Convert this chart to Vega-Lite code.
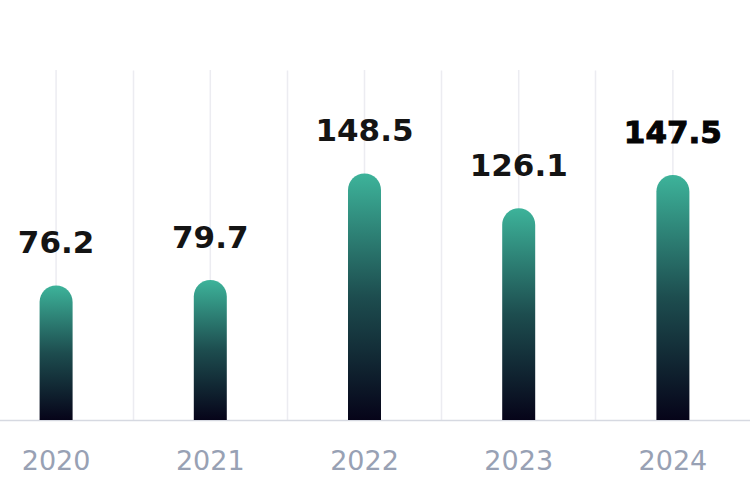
{
  "$schema": "https://vega.github.io/schema/vega-lite/v6.json",
  "width": 771,
  "height": 350,
  "autosize": {"type": "none"},
  "padding": {"left": -21, "top": 70, "right": 0, "bottom": 80},
  "background": "white",
  "data": {
    "values": [
      {"year": "2020", "value": 76.2},
      {"year": "2021", "value": 79.7},
      {"year": "2022", "value": 148.5},
      {"year": "2023", "value": 126.1},
      {"year": "2024", "value": 147.5}
    ]
  },
  "config": {
    "view": {"stroke": null},
    "font": "DejaVu Sans"
  },
  "encoding": {
    "x": {
      "field": "year",
      "type": "nominal",
      "sort": null,
      "scale": {"paddingInner": 0, "paddingOuter": 0},
      "axis": {
        "title": null,
        "bandPosition": 0,
        "grid": true,
        "gridColor": "#ececf1",
        "gridWidth": 1.5,
        "ticks": false,
        "domainColor": "#d6d9e1",
        "domainWidth": 1.5,
        "labelAngle": 0,
        "labelFont": "DejaVu Sans",
        "labelFontSize": 27,
        "labelFontWeight": "normal",
        "labelColor": "#98a1b4",
        "labelPadding": 28
      }
    }
  },
  "layer": [
    {
      "mark": {"type": "rule", "color": "#ececf1", "strokeWidth": 1.5},
      "encoding": {}
    },
    {
      "mark": {
        "type": "bar",
        "width": 33,
        "cornerRadiusTopLeft": 16.5,
        "cornerRadiusTopRight": 16.5,
        "fill": {
          "gradient": "linear",
          "x1": 0, "y1": 0, "x2": 0, "y2": 1,
          "stops": [
            {"offset": 0, "color": "#3db39a"},
            {"offset": 0.5, "color": "#1d4d4f"},
            {"offset": 1, "color": "#060419"}
          ]
        }
      },
      "encoding": {
        "y": {
          "field": "value",
          "type": "quantitative",
          "scale": {"domain": [-10.65, 215.3], "zero": false, "nice": false},
          "axis": null
        },
        "y2": {"datum": -10.65}
      }
    },
    {
      "transform": [{"filter": "datum.year !== '2024'"}],
      "mark": {
        "type": "text",
        "baseline": "alphabetic",
        "dy": -32,
        "fontSize": 31,
        "fontWeight": "bold",
        "color": "#141414"
      },
      "encoding": {
        "y": {"field": "value", "type": "quantitative"},
        "text": {"field": "value", "type": "quantitative", "format": ".1f"}
      }
    },
    {
      "transform": [{"filter": "datum.year === '2024'"}],
      "mark": {
        "type": "text",
        "baseline": "alphabetic",
        "dy": -32,
        "fontSize": 31,
        "fontWeight": "bold",
        "color": "#050505",
        "stroke": "#050505",
        "strokeWidth": 1
      },
      "encoding": {
        "y": {"field": "value", "type": "quantitative"},
        "text": {"field": "value", "type": "quantitative", "format": ".1f"}
      }
    }
  ]
}
